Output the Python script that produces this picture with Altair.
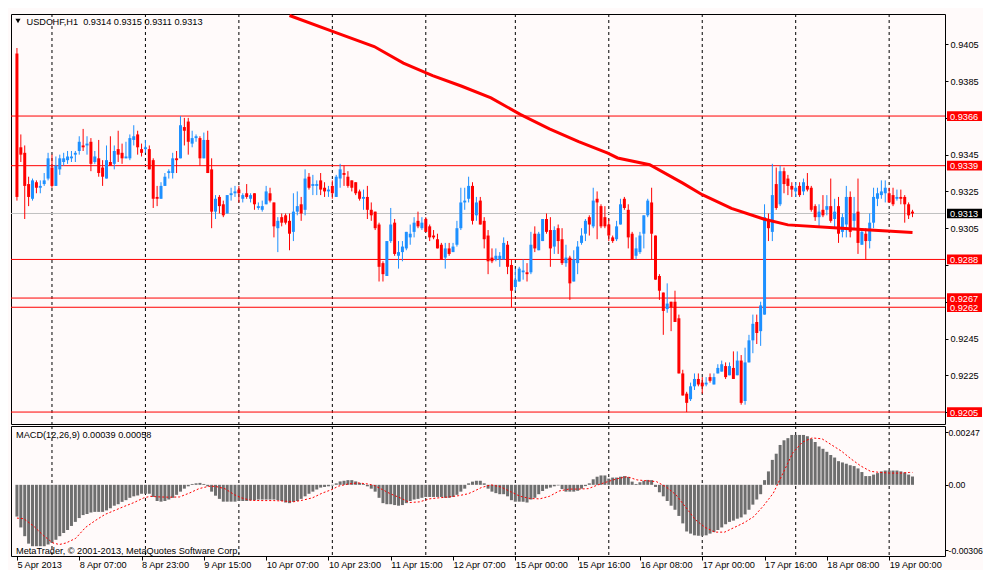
import json
import altair as alt
import pandas as pd

# ---------------- data ----------------
opens = [
    0.9400, 0.9349, 0.9346, 0.9329, 0.9321, 0.9330, 0.9327, 0.9329, 0.9332, 0.9338,
    0.9328, 0.9337, 0.9341, 0.9342, 0.9343, 0.9345, 0.9347, 0.9350, 0.9350, 0.9352,
    0.9341, 0.9343, 0.9338, 0.9332, 0.9341, 0.9340, 0.9348, 0.9346, 0.9343, 0.9343,
    0.9353, 0.9356, 0.9348, 0.9348, 0.9348, 0.9342, 0.9322, 0.9321, 0.9328, 0.9335,
    0.9335, 0.9343, 0.9343, 0.9360, 0.9363, 0.9351, 0.9354, 0.9354, 0.9343, 0.9353,
    0.9337, 0.9314, 0.9322, 0.9318, 0.9313, 0.9323, 0.9324, 0.9326, 0.9321, 0.9324,
    0.9321, 0.9324, 0.9316, 0.9315, 0.9318, 0.9324, 0.9319, 0.9305, 0.9311, 0.9312,
    0.9309, 0.9303, 0.9314, 0.9318, 0.9315, 0.9333, 0.9328, 0.9328, 0.9331, 0.9327,
    0.9325, 0.9328, 0.9322, 0.9332, 0.9335, 0.9333, 0.9331, 0.9330, 0.9325, 0.9321,
    0.9322, 0.9315, 0.9314, 0.9307, 0.9286, 0.9279, 0.9298, 0.9308, 0.9290, 0.9292,
    0.9294, 0.9300, 0.9303, 0.9309, 0.9305, 0.9310, 0.9306, 0.9301, 0.9299, 0.9296,
    0.9289, 0.9294, 0.9292, 0.9296, 0.9305, 0.9319, 0.9321, 0.9328, 0.9312, 0.9320,
    0.9309, 0.9301, 0.9289, 0.9288, 0.9288, 0.9288, 0.9296, 0.9285, 0.9273, 0.9276,
    0.9281, 0.9281, 0.9281, 0.9302, 0.9293, 0.9298, 0.9310, 0.9304, 0.9295, 0.9305,
    0.9299, 0.9286, 0.9289, 0.9276, 0.9286, 0.9297, 0.9302, 0.9311, 0.9306, 0.9321,
    0.9317, 0.9311, 0.9307, 0.9300, 0.9299, 0.9307, 0.9321, 0.9315, 0.9302, 0.9290,
    0.9292, 0.9302, 0.9312, 0.9319, 0.9301, 0.9279, 0.9270, 0.9261, 0.9265, 0.9265,
    0.9256, 0.9226, 0.9215, 0.9212, 0.9219, 0.9223, 0.9221, 0.9220, 0.9224, 0.9220,
    0.9226, 0.9227, 0.9230, 0.9225, 0.9229, 0.9225, 0.9233, 0.9211, 0.9232, 0.9244,
    0.9254, 0.9249, 0.9258, 0.9310, 0.9303, 0.9329, 0.9318, 0.9336, 0.9332, 0.9328,
    0.9325, 0.9328, 0.9325, 0.9328, 0.9327, 0.9317, 0.9311, 0.9315, 0.9315, 0.9317,
    0.9310, 0.9317, 0.9303, 0.9307, 0.9322, 0.9309, 0.9314, 0.9296, 0.9302, 0.9298,
    0.9308, 0.9321, 0.9323, 0.9324, 0.9324, 0.9323, 0.9321, 0.9322, 0.9322, 0.9318,
    0.9314,
]
highs = [
    0.9403, 0.9356, 0.9350, 0.9333, 0.9332, 0.9331, 0.9331, 0.9335, 0.9346, 0.9345,
    0.9344, 0.9345, 0.9346, 0.9347, 0.9347, 0.9347, 0.9355, 0.9359, 0.9355, 0.9354,
    0.9347, 0.9353, 0.9342, 0.9350, 0.9355, 0.9350, 0.9358, 0.9351, 0.9352, 0.9356,
    0.9361, 0.9358, 0.9351, 0.9353, 0.9350, 0.9343, 0.9328, 0.9330, 0.9335, 0.9337,
    0.9346, 0.9347, 0.9366, 0.9365, 0.9365, 0.9358, 0.9356, 0.9355, 0.9357, 0.9358,
    0.9343, 0.9323, 0.9323, 0.9320, 0.9323, 0.9327, 0.9328, 0.9328, 0.9324, 0.9329,
    0.9324, 0.9324, 0.9319, 0.9320, 0.9328, 0.9327, 0.9319, 0.9311, 0.9313, 0.9313,
    0.9313, 0.9324, 0.9325, 0.9322, 0.9337, 0.9335, 0.9334, 0.9331, 0.9335, 0.9330,
    0.9328, 0.9331, 0.9334, 0.9340, 0.9339, 0.9336, 0.9331, 0.9330, 0.9326, 0.9326,
    0.9328, 0.9319, 0.9314, 0.9308, 0.9287, 0.9298, 0.9316, 0.9310, 0.9298, 0.9298,
    0.9303, 0.9307, 0.9311, 0.9314, 0.9311, 0.9311, 0.9307, 0.9304, 0.9302, 0.9297,
    0.9297, 0.9297, 0.9297, 0.9309, 0.9327, 0.9327, 0.9333, 0.9330, 0.9322, 0.9322,
    0.9311, 0.9304, 0.9294, 0.9294, 0.9292, 0.9300, 0.9298, 0.9288, 0.9283, 0.9284,
    0.9288, 0.9286, 0.9303, 0.9306, 0.9303, 0.9310, 0.9313, 0.9311, 0.9306, 0.9307,
    0.9305, 0.9296, 0.9290, 0.9293, 0.9298, 0.9305, 0.9310, 0.9312, 0.9327, 0.9325,
    0.9318, 0.9317, 0.9310, 0.9301, 0.9309, 0.9321, 0.9322, 0.9318, 0.9303, 0.9300,
    0.9303, 0.9312, 0.9321, 0.9327, 0.9301, 0.9280, 0.9270, 0.9275, 0.9265, 0.9271,
    0.9258, 0.9228, 0.9216, 0.9221, 0.9226, 0.9226, 0.9224, 0.9224, 0.9226, 0.9226,
    0.9231, 0.9233, 0.9232, 0.9232, 0.9238, 0.9238, 0.9236, 0.9240, 0.9247, 0.9258,
    0.9258, 0.9265, 0.9318, 0.9313, 0.9340, 0.9338, 0.9339, 0.9338, 0.9334, 0.9330,
    0.9330, 0.9330, 0.9332, 0.9335, 0.9328, 0.9318, 0.9318, 0.9323, 0.9323, 0.9332,
    0.9321, 0.9322, 0.9313, 0.9328, 0.9325, 0.9322, 0.9332, 0.9305, 0.9305, 0.9313,
    0.9327, 0.9327, 0.9331, 0.9331, 0.9327, 0.9327, 0.9326, 0.9326, 0.9323, 0.9319,
    0.9315,
]
lows = [
    0.9320, 0.9341, 0.9310, 0.9317, 0.9320, 0.9324, 0.9324, 0.9328, 0.9331, 0.9327,
    0.9328, 0.9334, 0.9339, 0.9340, 0.9341, 0.9341, 0.9345, 0.9347, 0.9345, 0.9336,
    0.9340, 0.9333, 0.9328, 0.9332, 0.9339, 0.9337, 0.9341, 0.9340, 0.9343, 0.9342,
    0.9350, 0.9345, 0.9344, 0.9346, 0.9337, 0.9316, 0.9317, 0.9321, 0.9328, 0.9332,
    0.9332, 0.9335, 0.9343, 0.9350, 0.9345, 0.9349, 0.9352, 0.9339, 0.9343, 0.9335,
    0.9305, 0.9310, 0.9313, 0.9311, 0.9313, 0.9320, 0.9322, 0.9319, 0.9319, 0.9321,
    0.9319, 0.9315, 0.9315, 0.9314, 0.9318, 0.9319, 0.9300, 0.9292, 0.9306, 0.9307,
    0.9293, 0.9298, 0.9312, 0.9309, 0.9312, 0.9326, 0.9323, 0.9323, 0.9323, 0.9322,
    0.9322, 0.9321, 0.9322, 0.9327, 0.9328, 0.9327, 0.9325, 0.9323, 0.9320, 0.9315,
    0.9310, 0.9309, 0.9304, 0.9276, 0.9276, 0.9279, 0.9297, 0.9290, 0.9283, 0.9287,
    0.9293, 0.9296, 0.9300, 0.9305, 0.9304, 0.9303, 0.9298, 0.9299, 0.9294, 0.9288,
    0.9283, 0.9290, 0.9292, 0.9295, 0.9304, 0.9315, 0.9319, 0.9307, 0.9309, 0.9307,
    0.9294, 0.9280, 0.9286, 0.9287, 0.9284, 0.9288, 0.9280, 0.9262, 0.9271, 0.9276,
    0.9277, 0.9276, 0.9280, 0.9292, 0.9293, 0.9298, 0.9302, 0.9284, 0.9291, 0.9291,
    0.9285, 0.9284, 0.9266, 0.9276, 0.9280, 0.9296, 0.9298, 0.9301, 0.9305, 0.9299,
    0.9305, 0.9305, 0.9298, 0.9297, 0.9298, 0.9307, 0.9315, 0.9294, 0.9288, 0.9288,
    0.9291, 0.9294, 0.9311, 0.9288, 0.9277, 0.9266, 0.9247, 0.9259, 0.9249, 0.9254,
    0.9226, 0.9214, 0.9205, 0.9211, 0.9217, 0.9219, 0.9215, 0.9219, 0.9221, 0.9220,
    0.9226, 0.9227, 0.9223, 0.9225, 0.9223, 0.9225, 0.9209, 0.9209, 0.9232, 0.9237,
    0.9242, 0.9241, 0.9258, 0.9298, 0.9298, 0.9315, 0.9317, 0.9324, 0.9323, 0.9322,
    0.9322, 0.9322, 0.9323, 0.9325, 0.9314, 0.9309, 0.9306, 0.9311, 0.9312, 0.9308,
    0.9305, 0.9297, 0.9300, 0.9300, 0.9300, 0.9304, 0.9291, 0.9296, 0.9288, 0.9294,
    0.9305, 0.9317, 0.9321, 0.9319, 0.9319, 0.9317, 0.9320, 0.9318, 0.9308, 0.9310,
    0.9311,
]
closes = [
    0.9322, 0.9345, 0.9328, 0.9322, 0.9331, 0.9327, 0.9328, 0.9331, 0.9343, 0.9328,
    0.9339, 0.9343, 0.9343, 0.9344, 0.9344, 0.9346, 0.9352, 0.9349, 0.9351, 0.9340,
    0.9344, 0.9335, 0.9333, 0.9342, 0.9339, 0.9347, 0.9345, 0.9343, 0.9344, 0.9354,
    0.9355, 0.9349, 0.9346, 0.9349, 0.9337, 0.9321, 0.9321, 0.9328, 0.9333, 0.9336,
    0.9343, 0.9342, 0.9361, 0.9358, 0.9352, 0.9354, 0.9355, 0.9343, 0.9353, 0.9335,
    0.9314, 0.9321, 0.9317, 0.9312, 0.9323, 0.9324, 0.9325, 0.9324, 0.9323, 0.9322,
    0.9323, 0.9318, 0.9317, 0.9317, 0.9325, 0.9320, 0.9306, 0.9309, 0.9308, 0.9308,
    0.9302, 0.9314, 0.9317, 0.9313, 0.9332, 0.9327, 0.9329, 0.9329, 0.9326, 0.9325,
    0.9326, 0.9324, 0.9333, 0.9337, 0.9334, 0.9328, 0.9327, 0.9324, 0.9321, 0.9322,
    0.9315, 0.9312, 0.9305, 0.9284, 0.9280, 0.9298, 0.9307, 0.9291, 0.9292, 0.9295,
    0.9303, 0.9302, 0.9308, 0.9306, 0.9308, 0.9303, 0.9300, 0.9300, 0.9294, 0.9288,
    0.9294, 0.9291, 0.9295, 0.9305, 0.9319, 0.9320, 0.9328, 0.9309, 0.9319, 0.9307,
    0.9299, 0.9287, 0.9287, 0.9290, 0.9290, 0.9297, 0.9284, 0.9271, 0.9277, 0.9283,
    0.9282, 0.9280, 0.9296, 0.9294, 0.9302, 0.9310, 0.9303, 0.9294, 0.9304, 0.9298,
    0.9286, 0.9289, 0.9275, 0.9288, 0.9295, 0.9301, 0.9309, 0.9307, 0.9320, 0.9319,
    0.9306, 0.9306, 0.9301, 0.9298, 0.9306, 0.9318, 0.9316, 0.9300, 0.9288, 0.9294,
    0.9301, 0.9312, 0.9320, 0.9302, 0.9277, 0.9271, 0.9260, 0.9264, 0.9262, 0.9254,
    0.9226, 0.9214, 0.9210, 0.9219, 0.9223, 0.9220, 0.9219, 0.9221, 0.9222, 0.9224,
    0.9229, 0.9231, 0.9224, 0.9230, 0.9223, 0.9233, 0.9210, 0.9232, 0.9244, 0.9253,
    0.9248, 0.9263, 0.9311, 0.9305, 0.9323, 0.9316, 0.9336, 0.9329, 0.9328, 0.9326,
    0.9327, 0.9323, 0.9330, 0.9326, 0.9315, 0.9311, 0.9314, 0.9312, 0.9317, 0.9309,
    0.9314, 0.9302, 0.9311, 0.9322, 0.9303, 0.9313, 0.9297, 0.9303, 0.9298, 0.9308,
    0.9322, 0.9324, 0.9325, 0.9327, 0.9319, 0.9318, 0.9322, 0.9321, 0.9318, 0.9312,
    0.9313,
]

# moving average line (bar index, price)
ma_i = [70, 81.75, 91.75, 99.25, 106.75, 114.25, 121.75, 129.25, 136.75, 144.25,
        151.75, 154.25, 162.5, 171, 176, 183.5, 191.75, 198, 209.75, 218, 230]
ma_v = [0.94207, 0.94115, 0.94038, 0.93948, 0.93880, 0.93822, 0.93759, 0.93669,
        0.93590, 0.93521, 0.93458, 0.93432, 0.93395, 0.93295, 0.93232, 0.93158, 0.93100,
        0.93068, 0.93052, 0.93042, 0.93026]

# MACD histogram (one per bar)
macd_hist = [
    -0.00149, -0.00200, -0.00241, -0.00276, -0.00288, -0.00288, -0.00288, -0.00288, -0.00280, -0.00273,
    -0.00258, -0.00241, -0.00226, -0.00212, -0.00193, -0.00174, -0.00156, -0.00142, -0.00137, -0.00130,
    -0.00127, -0.00127, -0.00127, -0.00120, -0.00110, -0.00098, -0.00091, -0.00080, -0.00072, -0.00061,
    -0.00054, -0.00050, -0.00042, -0.00042, -0.00042, -0.00057, -0.00076, -0.00079, -0.00076, -0.00069,
    -0.00061, -0.00047, -0.00032, -0.00018, -0.00007, 0.00004, 0.00007, 0.00009, 0.00004, -0.00007,
    -0.00032, -0.00051, -0.00066, -0.00079, -0.00079, -0.00079, -0.00079, -0.00076, -0.00076, -0.00076,
    -0.00073, -0.00072, -0.00069, -0.00069, -0.00069, -0.00069, -0.00069, -0.00072, -0.00076, -0.00083,
    -0.00086, -0.00080, -0.00076, -0.00066, -0.00054, -0.00042, -0.00032, -0.00022, -0.00013, -0.00010,
    -0.00007, -0.00003, 0.00007, 0.00016, 0.00019, 0.00022, 0.00022, 0.00016, 0.00009, 0.00004,
    -0.00007, -0.00018, -0.00032, -0.00061, -0.00086, -0.00091, -0.00091, -0.00095, -0.00098, -0.00095,
    -0.00086, -0.00076, -0.00069, -0.00066, -0.00061, -0.00057, -0.00057, -0.00057, -0.00057, -0.00057,
    -0.00061, -0.00061, -0.00057, -0.00047, -0.00032, -0.00018, 0.00007, 0.00015, 0.00019, 0.00019,
    0.00007, -0.00018, -0.00032, -0.00039, -0.00044, -0.00044, -0.00054, -0.00072, -0.00079, -0.00079,
    -0.00079, -0.00083, -0.00069, -0.00061, -0.00044, -0.00029, -0.00018, -0.00013, -0.00007, -0.00003,
    -0.00020, -0.00032, -0.00032, -0.00032, -0.00028, -0.00018, -0.00006, 0.00007, 0.00026, 0.00038,
    0.00044, 0.00044, 0.00029, 0.00034, 0.00034, 0.00038, 0.00041, 0.00037, 0.00015, 0.00004,
    0.00012, 0.00019, 0.00023, 0.00022, -0.00010, -0.00035, -0.00054, -0.00076, -0.00098, -0.00117,
    -0.00146, -0.00181, -0.00219, -0.00229, -0.00237, -0.00239, -0.00239, -0.00237, -0.00229, -0.00222,
    -0.00212, -0.00200, -0.00185, -0.00174, -0.00168, -0.00159, -0.00153, -0.00139, -0.00117, -0.00093,
    -0.00069, -0.00044, 0.00022, 0.00063, 0.00117, 0.00146, 0.00187, 0.00209, 0.00219, 0.00234,
    0.00234, 0.00234, 0.00234, 0.00228, 0.00216, 0.00201, 0.00180, 0.00169, 0.00155, 0.00140,
    0.00128, 0.00111, 0.00105, 0.00099, 0.00092, 0.00088, 0.00077, 0.00060, 0.00041, 0.00041,
    0.00048, 0.00055, 0.00063, 0.00067, 0.00067, 0.00067, 0.00067, 0.00063, 0.00058, 0.00048,
    0.00039,
]

# MACD signal line (bar index, value)
sig_i = [0, 1.75, 4.25, 6.75, 9.25, 10.9, 12.6, 15.1, 17.6, 20.1, 22.6, 25.1, 27.6, 30.1, 32.6,
         34.25, 36.75, 39.25, 41.75, 44.25, 46.75, 49.25, 50.9, 53.4, 55.9, 57.6, 60.1, 62.6,
         65.9, 68.4, 70.9, 73.4, 75.9, 78.4, 80.9, 82.6, 85.1, 87.6, 90.1, 91.75, 93.4, 95.9,
         98.4, 100.9, 103.4, 105.9, 108.4, 110.9, 113.4, 115.9, 117.6, 119.25, 121.75, 124.25,
         126.75, 129.25, 131.75, 134.25, 136.75, 139.25, 141.75, 144.25, 146.75, 149.25, 151.75,
         154.25, 156.75, 159.25, 161.75, 164.25, 166.75, 169.25, 171.75, 174.25, 176.75, 179.25,
         181.75, 184.25, 186.75, 189.25, 191.75, 194.25, 196.75, 199.25, 201.75, 204.25, 206.75,
         209.25, 211.75, 214.25, 216.75, 219.25, 221.75, 224.25, 226.75, 229.25, 230]
sig_v = [-0.00156, -0.00159, -0.00193, -0.00237, -0.00273, -0.00280, -0.00273, -0.00251, -0.00200,
         -0.00168, -0.00139, -0.00120, -0.00101, -0.00083, -0.00061, -0.00054, -0.00057, -0.00058,
         -0.00057, -0.00039, -0.00018, -0.00007, -0.00007, -0.00018, -0.00047, -0.00061, -0.00073,
         -0.00074, -0.00074, -0.00076, -0.00080, -0.00072, -0.00061, -0.00039, -0.00022, -0.00006,
         0.00004, 0.00009, 0.00004, -0.00003, -0.00018, -0.00042, -0.00061, -0.00083, -0.00080,
         -0.00066, -0.00061, -0.00057, -0.00051, -0.00042, -0.00028, -0.00013, 0.0, -0.00010,
         -0.00032, -0.00054, -0.00064, -0.00066, -0.00054, -0.00029, -0.00020, -0.00020, -0.00018,
         0.0, 0.00015, 0.00029, 0.00038, 0.00023, 0.00019, 0.00015, -0.00010, -0.00047, -0.00105,
         -0.00164, -0.00200, -0.00222, -0.00222, -0.00200, -0.00178, -0.00149, -0.00098, -0.00039,
         0.00055, 0.00150, 0.00201, 0.00220, 0.00216, 0.00187, 0.00158, 0.00121, 0.00088, 0.00063,
         0.00058, 0.00055, 0.00055, 0.00058, 0.00058]

day_lines = [9, 33, 57, 81, 105, 128, 152, 176, 200, 224]
x_ticks = [0, 16, 32, 48, 64, 80, 96, 112, 128, 144, 160, 176, 192, 208, 224]
x_labels = ["5 Apr 2013", "8 Apr 07:00", "8 Apr 23:00", "9 Apr 15:00", "10 Apr 07:00",
            "10 Apr 23:00", "11 Apr 15:00", "12 Apr 07:00", "15 Apr 00:00", "15 Apr 16:00",
            "16 Apr 08:00", "17 Apr 00:00", "17 Apr 16:00", "18 Apr 08:00", "19 Apr 00:00"]
level_prices = [0.9366, 0.9339, 0.9288, 0.9267, 0.9262, 0.9205]
bid_price = [0.9313]
price_ticks = [0.9405, 0.9385, 0.9365, 0.9345, 0.9325, 0.9305, 0.9285, 0.9265, 0.9245, 0.9225, 0.9205]
hidden_price_labels = [0.9365, 0.9285, 0.9265, 0.9205]   # covered by the level boxes
macd_ticks = [0.00247, 0.0, -0.00306]
macd_tick_labels = ["0.00247", "0.00", "-0.00306"]
title_text = ["USDCHF,H1\u00a0 0.9314 0.9315 0.9311 0.9313"]
macd_text = ["MACD(12,26,9) 0.00039 0.00058"]
copyright_text = ["MetaTrader, \u00a9 2001-2013, MetaQuotes Software Corp."]

# ---------------- styling ----------------
W, H_MAIN, H_MACD = 934, 410, 130
FONT = "Liberation Sans"
FS = 9.2
BLUE, RED, BG = "#1E90FF", "#FF0000", "#FFFAFA"
BOX_HALF = 0.000263  # half of a price-label box, in price units
BOX_X0, BOX_X1, BOX_TX = 936, 971, 939

xs = alt.Scale(domain=[-0.241, 237.06], nice=False, zero=False)
ys = alt.Scale(domain=[0.91985, 0.94215], nice=False, zero=False)
ms = alt.Scale(domain=[-0.00334, 0.00276], nice=False, zero=False)

main_axis = alt.Axis(orient="right", values=price_ticks, title=None,
                     labelExpr=f"indexof({json.dumps(hidden_price_labels)}, datum.value) >= 0 ? '' : format(datum.value, '.4f')",
                     tickSize=3, labelPadding=2, domain=False, grid=False,
                     labelFont=FONT, labelFontSize=FS, labelColor="black",
                     tickColor="black", zindex=0, labelOverlap=False, labelFlush=False)
macd_axis = alt.Axis(orient="right", values=macd_ticks, title=None,
                     labelExpr=f"{json.dumps(macd_tick_labels)}[indexof({json.dumps(macd_ticks)}, datum.value)]",
                     tickSize=3, labelPadding=0, domain=False, grid=False,
                     labelFont=FONT, labelFontSize=8.7, labelColor="black",
                     tickColor="black", zindex=0, labelOverlap=False, labelFlush=False)
x_axis = alt.Axis(values=x_ticks, title=None,
                  labelExpr=f"{json.dumps(x_labels)}[round(datum.value / 16)]",
                  tickSize=4, labelPadding=0, labelAlign="left", domain=False, grid=False,
                  labelFont=FONT, labelFontSize=FS, labelColor="black", tickColor="black",
                  labelOverlap=False, labelFlush=False, labelBound=False, zindex=0)

candles = pd.DataFrame({"i": list(range(len(opens))), "o": opens, "h": highs,
                        "l": lows, "c": closes})
levels = pd.DataFrame({"p": level_prices, "lab": [f"{p:.4f}" for p in level_prices]})
bid = pd.DataFrame({"p": bid_price, "lab": [f"{p:.4f}" for p in bid_price]})
days = pd.DataFrame({"i": day_lines})
ma = pd.DataFrame({"i": ma_i, "v": ma_v})
hist = pd.DataFrame({"i": list(range(len(macd_hist))), "v": macd_hist})
sig = pd.DataFrame({"i": sig_i, "v": sig_v})

X = alt.X("i:Q", scale=xs, axis=None)


def YM(field):
    return alt.Y(field, scale=ys, axis=main_axis)


candle_color = alt.condition("datum.c > datum.o", alt.value(BLUE), alt.value(RED))

# ---------------- main (price) panel ----------------
vgrid = alt.Chart(days).mark_rule(color="black", strokeDash=[3, 3], strokeWidth=1).encode(x=X)
hlines = alt.Chart(levels).mark_rule(color=RED, strokeWidth=1).encode(y=YM("p:Q"))
bidline = alt.Chart(bid).mark_rule(color="#C0C0C0", strokeWidth=1).encode(y=YM("p:Q"))
wicks = alt.Chart(candles).mark_rule(strokeWidth=1).encode(
    x=X, y=YM("l:Q"), y2="h:Q", color=candle_color)
bodies = alt.Chart(candles).mark_bar(size=3).encode(
    x=X, y=YM("o:Q"), y2="c:Q", color=candle_color)
ma_line = alt.Chart(ma).mark_line(color=RED, strokeWidth=3).encode(x=X, y=YM("v:Q"))


def price_box(df, fill):
    box = alt.Chart(df).transform_calculate(
        top=f"datum.p + {BOX_HALF}", bot=f"datum.p - {BOX_HALF}"
    ).mark_rect(color=fill).encode(
        x=alt.value(BOX_X0), x2=alt.value(BOX_X1), y=YM("top:Q"), y2="bot:Q")
    txt = alt.Chart(df).mark_text(align="left", baseline="middle", color="white",
                                  font=FONT, fontSize=FS, dy=0.5).encode(
        x=alt.value(BOX_TX), y=YM("p:Q"), text="lab:N")
    return box, txt


lvl_box, lvl_txt = price_box(levels, RED)
bid_box, bid_txt = price_box(bid, "black")

tri = alt.Chart(pd.DataFrame({"t": [0]})).mark_point(
    shape="triangle-down", filled=True, color="black", size=26, opacity=1).encode(
    x=alt.value(7), y=alt.value(7))
title = alt.Chart(pd.DataFrame({"t": title_text})).mark_text(
    align="left", baseline="alphabetic", font=FONT, fontSize=FS, color="black").encode(
    x=alt.value(15.5), y=alt.value(10.5), text="t:N")

main = alt.layer(vgrid, hlines, bidline, wicks, bodies, ma_line,
                 lvl_box, lvl_txt, bid_box, bid_txt, tri, title).properties(
    width=W, height=H_MAIN)

# ---------------- MACD panel ----------------
XM = alt.X("i:Q", scale=xs, axis=x_axis)
vgrid2 = alt.Chart(days).mark_rule(color="black", strokeDash=[3, 3], strokeWidth=1).encode(x=XM)
hist_bars = alt.Chart(hist).mark_bar(size=3, color="#6E6E6E").encode(
    x=XM, y=alt.Y("v:Q", scale=ms, axis=macd_axis), y2=alt.datum(0))
sig_line = alt.Chart(sig).mark_line(color=RED, strokeWidth=1, strokeDash=[2, 2]).encode(
    x=XM, y=alt.Y("v:Q", scale=ms, axis=macd_axis))
macd_lbl = alt.Chart(pd.DataFrame({"t": macd_text})).mark_text(
    align="left", baseline="alphabetic", font=FONT, fontSize=FS, color="black").encode(
    x=alt.value(5), y=alt.value(12), text="t:N")
copy_lbl = alt.Chart(pd.DataFrame({"t": copyright_text})).mark_text(
    align="left", baseline="alphabetic", font=FONT, fontSize=FS, color="black").encode(
    x=alt.value(5), y=alt.value(127.5), text="t:N")

macd = alt.layer(vgrid2, hist_bars, sig_line, macd_lbl, copy_lbl).properties(
    width=W, height=H_MACD)

chart = alt.vconcat(main, macd, spacing=2, bounds="flush").properties(
    padding={"left": 2, "top": 0, "right": 0, "bottom": 0}, background=BG
).configure_view(stroke="black", strokeWidth=1, fill=None)

chart.save("out.html", embed_options={"renderer": "svg", "actions": False})
